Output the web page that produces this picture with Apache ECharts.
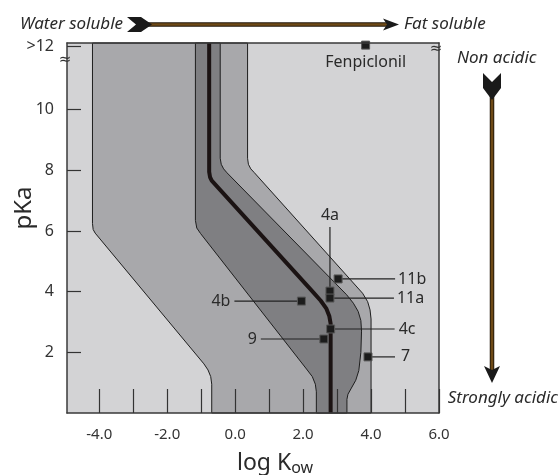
<!DOCTYPE html>
<html>
<head>
<meta charset="utf-8">
<script src="https://cdn.jsdelivr.net/npm/echarts@6/dist/echarts.min.js"></script>
<style>
  html, body { margin: 0; padding: 0; background: #ffffff; }
  #chart { width: 560px; height: 475px; }
</style>
</head>
<body>
<div id="chart"></div>
<script>
// ---------- data ----------
const xTickValues = [-4, -3, -2, -1, 0, 1, 2, 3, 4, 5, 6];
const xLabelValues = [-4, -2, 0, 2, 4, 6];
const yTickValues = [2, 4, 6, 8, 10, 12.1];

// band boundaries: [log Kow, pKa]
const outerLeft = [[-4.2, 12.2], [-4.2, 6.25], [-4.18, 6.05], [-4.12, 5.93], [-0.92, 1.62], [-0.8, 1.42], [-0.72, 1.2], [-0.69, 0.95], [-0.69, 0]];
const outerRight = [[0.365, 12.2], [0.365, 8.4], [0.39, 8.2], [0.46, 8.05], [0.56, 7.93], [3.75, 3.95], [3.9, 3.67], [3.97, 3.4], [4.0, 3.1], [4.0, 0]];
const darkLeft = [[-1.17, 12.2], [-1.17, 6.35], [-1.13, 6.1], [-1.02, 5.92], [2.1, 1.45], [2.27, 1.2], [2.36, 0.95], [2.39, 0.7], [2.39, 0]];
const darkRight = [[-0.44, 12.2], [-0.44, 8.4], [-0.41, 8.2], [-0.34, 8.05], [-0.24, 7.92], [3.28, 3.9], [3.48, 3.62], [3.62, 3.35], [3.7, 3.05], [3.72, 2.7], [3.7, 2.0], [3.64, 1.4], [3.55, 1.08], [3.42, 0.82], [3.32, 0.62], [3.29, 0.45], [3.29, 0]];
const centreLine = [[-0.765, 12.2], [-0.765, 7.95], [-0.74, 7.78], [-0.69, 7.66], [2.3, 3.98], [2.52, 3.7], [2.68, 3.45], [2.77, 3.2], [2.81, 2.95], [2.81, 0]];

// compounds
const pointNames = ['Fenpiclonil', '11b', '4a', '11a', '4b', '4c', '9', '7'];
const pointLogKow = [3.84, 3.03, 2.79, 2.79, 1.95, 2.81, 2.61, 3.91];
const pointPka = [12.13, 4.42, 4.02, 3.79, 3.69, 2.77, 2.44, 1.85];

// ---------- layout / style (not data) ----------
const FONT = "'Noto Sans', 'DejaVu Sans', sans-serif";
const labelLayout = {
  'Fenpiclonil': { lead: [0, 0], text: [0, 17], align: 'center' },
  '11b': { lead: [57, 0], text: [60, 0], align: 'left' },
  '11a': { lead: [64, 0], text: [67, 0], align: 'left' },
  '4c':  { lead: [64, 0], text: [68, 0], align: 'left' },
  '7':   { lead: [27, 0], text: [33, 0], align: 'left' },
  '4a':  { lead: [0, -64], text: [0, -76], align: 'center' },
  '4b':  { lead: [-67, 0], text: [-71, 0], align: 'right' },
  '9':   { lead: [-63, 0], text: [-67, 0], align: 'right' }
};

const bands = [
  { left: outerLeft, right: outerRight, fill: '#a8a8ab' },
  { left: darkLeft, right: darkRight, fill: '#7f7f82' }
];

const chart = echarts.init(document.getElementById('chart'), null, { renderer: 'canvas' });

const axisLineStyle = { color: '#3a3a3a', width: 1.5 };

const option = {
  animation: false,
  backgroundColor: '#ffffff',
  grid: { left: 67, right: 121, top: 43, bottom: 62, show: true, backgroundColor: '#d3d3d5', borderWidth: 0 },
  xAxis: [
    {
      type: 'value', min: -4.95, max: 6, position: 'bottom', z: 10,
      axisLine: { show: true, onZero: false, lineStyle: axisLineStyle },
      axisTick: { show: true, inside: true, length: 24, customValues: xTickValues, lineStyle: { color: '#333', width: 1.2 } },
      axisLabel: { show: true, customValues: xLabelValues, formatter: v => Number(v).toFixed(1), fontSize: 15, color: '#333', fontFamily: FONT, margin: 14 },
      splitLine: { show: false }
    },
    {
      type: 'value', min: -4.95, max: 6, position: 'top', z: 10,
      axisLine: { show: true, onZero: false, lineStyle: axisLineStyle },
      axisTick: { show: false }, axisLabel: { show: false }, splitLine: { show: false }
    }
  ],
  yAxis: [
    {
      type: 'value', min: 0, max: 12.2, position: 'left', z: 10,
      axisLine: { show: true, onZero: false, lineStyle: axisLineStyle },
      axisTick: { show: true, inside: true, length: 14, customValues: yTickValues, lineStyle: { color: '#333', width: 1.2 } },
      axisLabel: { show: true, customValues: yTickValues, formatter: v => (v > 12 ? '>12' : String(v)), fontSize: 16, color: '#333', fontFamily: FONT, margin: 13 },
      splitLine: { show: false }
    },
    {
      type: 'value', min: 0, max: 12.2, position: 'right', z: 10,
      axisLine: { show: true, onZero: false, lineStyle: axisLineStyle },
      axisTick: { show: false }, axisLabel: { show: false }, splitLine: { show: false }
    }
  ],
  series: [
    {
      type: 'custom', z: 1, silent: true,
      data: bands.map(b => b.left[0]),
      renderItem: function (params, api) {
        const b = bands[params.dataIndex];
        const pts = b.left.concat(b.right.slice().reverse()).map(p => api.coord(p));
        return { type: 'polygon', shape: { points: pts }, style: { fill: b.fill, stroke: '#1e1e1e', lineWidth: 1 } };
      }
    },
    {
      type: 'line', z: 3, silent: true, data: centreLine, showSymbol: false, symbol: 'none',
      lineStyle: { color: '#1b1313', width: 4, join: 'round' }
    },
    {
      type: 'custom', z: 5, silent: true,
      data: pointNames.map((n, i) => [pointLogKow[i], pointPka[i]]),
      renderItem: function (params, api) {
        const name = pointNames[params.dataIndex];
        const L = labelLayout[name];
        const p = api.coord([api.value(0), api.value(1)]);
        const children = [];
        if (L.lead[0] !== 0 || L.lead[1] !== 0) {
          children.push({ type: 'line', shape: { x1: p[0], y1: p[1], x2: p[0] + L.lead[0], y2: p[1] + L.lead[1] }, style: { stroke: '#222', lineWidth: 1.2 } });
        }
        children.push({ type: 'rect', shape: { x: p[0] - 4, y: p[1] - 4, width: 8, height: 8 }, style: { fill: '#1c1c1c', stroke: '#5a5a5a', lineWidth: 1 } });
        children.push({ type: 'text', x: p[0] + L.text[0], y: p[1] + L.text[1], style: { text: name, fontSize: 16, fontFamily: FONT, fill: '#2a2a2a', align: L.align, verticalAlign: 'middle' } });
        return { type: 'group', children: children };
      }
    }
  ],
  graphic: {
    elements: [
      // axis titles
      { type: 'text', x: 24, y: 208, rotation: Math.PI / 2, style: { text: 'pKa', fontSize: 24, fontFamily: FONT, fill: '#2a2a2a', align: 'center', verticalAlign: 'middle' } },
      { type: 'text', x: 237, y: 463, style: { text: '{m|log K}{s|ow}', fontFamily: FONT, fill: '#2a2a2a', align: 'left', verticalAlign: 'middle',
          rich: { m: { fontSize: 23, fontFamily: FONT, fill: '#2a2a2a' }, s: { fontSize: 16, fontFamily: FONT, fill: '#2a2a2a', padding: [10, 0, 0, 0] } } } },
      // top annotation
      { type: 'text', x: 123, y: 24, style: { text: 'Water soluble', fontSize: 17, fontStyle: 'italic', fontFamily: FONT, fill: '#2a2a2a', align: 'right', verticalAlign: 'middle' } },
      { type: 'text', x: 404, y: 24, style: { text: 'Fat soluble', fontSize: 17, fontStyle: 'italic', fontFamily: FONT, fill: '#2a2a2a', align: 'left', verticalAlign: 'middle' } },
      { type: 'line', shape: { x1: 148, y1: 24.5, x2: 388, y2: 24.5 }, style: { stroke: '#22170a', lineWidth: 4.5 } },
      { type: 'line', shape: { x1: 148, y1: 24.5, x2: 388, y2: 24.5 }, style: { stroke: '#6e4a17', lineWidth: 2.6 } },
      { type: 'polygon', shape: { points: [[127, 17], [141, 17], [152, 24.5], [141, 32], [127, 32], [136, 24.5]] }, style: { fill: '#1a1a1a' } },
      { type: 'polygon', shape: { points: [[383, 18.5], [399, 24.5], [383, 30.5], [387, 24.5]] }, style: { fill: '#1a1a1a' } },
      // right annotation
      { type: 'text', x: 457, y: 58, style: { text: 'Non acidic', fontSize: 17, fontStyle: 'italic', fontFamily: FONT, fill: '#2a2a2a', align: 'left', verticalAlign: 'middle' } },
      { type: 'text', x: 558, y: 398, style: { text: 'Strongly acidic', fontSize: 17, fontStyle: 'italic', fontFamily: FONT, fill: '#2a2a2a', align: 'right', verticalAlign: 'middle' } },
      { type: 'line', shape: { x1: 492, y1: 96, x2: 492, y2: 372 }, style: { stroke: '#22170a', lineWidth: 4.5 } },
      { type: 'line', shape: { x1: 492, y1: 96, x2: 492, y2: 372 }, style: { stroke: '#6e4a17', lineWidth: 2.6 } },
      { type: 'polygon', shape: { points: [[483, 73], [492, 82], [501, 73], [501, 88], [492, 100], [483, 88]] }, style: { fill: '#1a1a1a' } },
      { type: 'polygon', shape: { points: [[484, 366], [492, 370], [500, 366], [492, 383]] }, style: { fill: '#1a1a1a' } },
      // axis break marks
      { type: 'text', x: 65, y: 60, z: 100, style: { text: '≈', fontSize: 15, fontFamily: FONT, fill: '#333', align: 'center', verticalAlign: 'middle' } },
      { type: 'text', x: 436, y: 49, z: 100, style: { text: '≈', fontSize: 15, fontFamily: FONT, fill: '#333', align: 'center', verticalAlign: 'middle' } }
    ]
  }
};

chart.setOption(option);
</script>
</body>
</html>
